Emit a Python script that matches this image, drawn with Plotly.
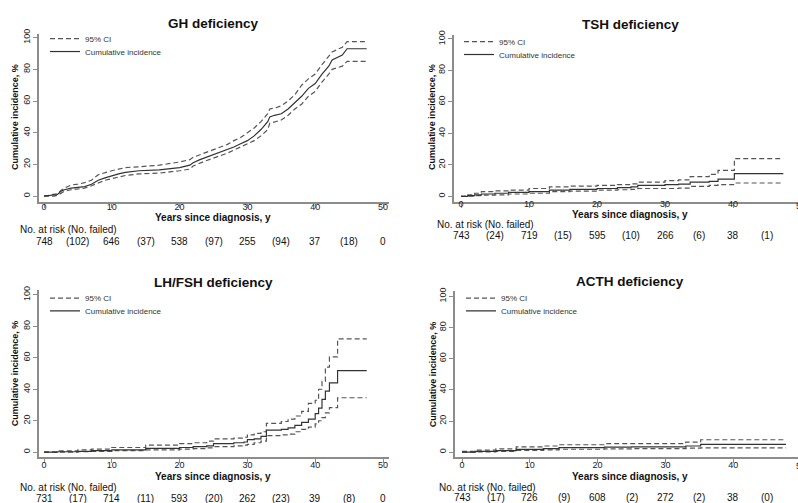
import plotly.graph_objects as go

W, H = 798, 503
FONT = "Liberation Sans, Arial, Helvetica, sans-serif"

# ---------------- data ----------------
titles = ["GH deficiency", "TSH deficiency", "LH/FSH deficiency", "ACTH deficiency"]

gh_t = [0, 1.5, 2, 2.5, 3, 4, 5, 6, 7, 8, 9, 10, 11, 12, 14, 17, 20, 21.5, 22, 23,
        24, 25, 26, 27, 28, 29, 30, 31, 32, 33, 33.3, 34, 35, 36, 37, 38, 39, 40, 41, 42,
        42.5, 44, 44.7, 47.6]
gh_ci = [0, 0.5, 1, 3, 4, 5, 5.5, 6, 7.5, 10, 11.5, 13, 14, 15, 16, 16.5, 18, 19.5, 21, 23,
         24.5, 26, 27.5, 29, 31, 33, 35, 38, 42, 47, 50, 51, 52, 55, 59, 63, 68, 71, 77, 82,
         86, 89, 93, 93]
gh_hi = [0, 1, 1.5, 3.5, 5, 7, 7.5, 8.5, 10, 13.5, 15, 16, 17, 18, 18.5, 19.5, 21.5, 23, 24.5, 26,
         27.5, 29, 30.5, 32.5, 35, 37, 40, 43, 47, 52, 55, 55.5, 57, 60, 64, 70, 74, 77, 83, 88,
         91, 94, 97.5, 97.5]
gh_lo = [0, 0, 0.5, 2, 3, 4, 4.5, 5, 6.5, 8.5, 10, 11, 12, 13, 14, 14.5, 16, 17, 19, 21,
         22.5, 24, 25.5, 27, 29, 31, 33, 35, 38, 42, 46, 47, 48, 51, 55, 58, 63, 66, 72, 77,
         80, 82, 85, 85]

tsh_t = [0, 1, 2, 3, 5, 7, 10, 13, 16, 20, 23, 25, 26, 30, 32, 33.7, 36.5, 37.8, 40.2, 47.4]
tsh_ci = [0, 0.5, 1, 1.5, 2, 2.5, 3, 4, 4.5, 5, 5.5, 6, 7, 7.5, 7.8, 9, 9.5, 11, 14.5, 14.5]
tsh_hi = [0, 1, 2, 3, 3.5, 4, 5, 6, 6.5, 7, 7.5, 8, 9, 10, 10.5, 12.5, 14, 16.5, 24, 24]
tsh_lo = [0, 0.2, 0.5, 0.8, 1, 1.5, 2, 3, 3.3, 4, 4.2, 4.5, 5, 5, 5.3, 6.3, 7, 7.5, 8.5, 8.5]

lh_t = [0, 2, 5, 7, 10, 15, 20, 22, 24, 25, 28, 29.5, 30, 31, 32, 32.8, 35, 36, 37, 38,
        39, 40, 40.5, 41, 41.5, 42.1, 43.3, 47.6]
lh_ci = [0, 0.3, 0.5, 1, 1.5, 2.5, 3, 3.5, 4, 5.5, 6, 6.5, 8, 8.5, 10, 14, 14.5, 15.5, 17, 19,
         21, 24.5, 28, 33.6, 38.8, 44, 51.8, 51.8]
lh_hi = [0, 0.8, 1.5, 2, 3, 4.5, 5.5, 6, 7, 8.5, 9, 9.5, 11, 12, 13, 18.3, 19.5, 21, 23, 26,
         31, 33, 40, 45, 54, 60.5, 72, 72]
lh_lo = [0, 0, 0.3, 0.5, 1, 1.5, 2, 2.3, 2.8, 3.5, 4, 4.5, 5, 6, 7, 10.5, 11, 11.5, 13, 14.5,
         16, 18, 20, 22, 25, 28.3, 34.6, 34.6]

acth_t = [0, 2, 5, 8, 12, 14.3, 21, 25, 33, 35.2, 47.8]
acth_ci = [0, 0.5, 1, 1.8, 2.3, 3, 3.3, 3.4, 4, 5, 5]
acth_hi = [0.5, 1.3, 2.2, 3.4, 4, 4.8, 5.5, 5.5, 6.5, 8, 8]
acth_lo = [0, 0.2, 0.5, 1.1, 1.5, 1.9, 2.2, 2.3, 2.6, 2.8, 2.8]

risk_years = [0, 10, 20, 30, 40, 50]
fail_years = [5, 15, 25, 35, 45]
gh_risk = [748, 646, 538, 255, 37, 0]
gh_fail = [102, 37, 97, 94, 18]
tsh_risk = [743, 719, 595, 266, 38, 0]
tsh_fail = [24, 15, 10, 6, 1]
lh_risk = [731, 714, 593, 262, 39, 0]
lh_fail = [17, 11, 20, 23, 8]
acth_risk = [743, 726, 608, 272, 38, 0]
acth_fail = [17, 9, 2, 2, 0]

x_ticks = [0, 10, 20, 30, 40, 50]
y_ticks = [0, 20, 40, 60, 80, 100]

# ---------------- layout geometry (pixels) ----------------
panels = [
    dict(t=gh_t, ci=gh_ci, hi=gh_hi, lo=gh_lo, risk=gh_risk, fail=gh_fail, shape="linear",
         xdom=(39, 389), x0=44, ppy=6.78, ydom=(29, 199), y0=193, y100=33, tstand=-9,
         title=(213, 19), ytitle=(15, 113), xtitle=(213, 215), nar=(18, 227), num_y=239,
         leg=(45, 34), tick_y=206),
    dict(t=tsh_t, ci=tsh_ci, hi=tsh_hi, lo=tsh_lo, risk=tsh_risk, fail=tsh_fail, shape="hv",
         xdom=(454, 798), x0=461, ppy=6.8, ydom=(30, 199), y0=193.3, y100=34.3, tstand=-12,
         title=(630, 20), ytitle=(432, 113), xtitle=(630, 212), nar=(435, 222), num_y=233,
         leg=(459, 37), tick_y=203),
    dict(t=lh_t, ci=lh_ci, hi=lh_hi, lo=lh_lo, risk=lh_risk, fail=lh_fail, shape="hv",
         xdom=(39, 389), x0=44, ppy=6.78, ydom=(288, 457), y0=451.7, y100=292.7, tstand=-6,
         title=(213, 280), ytitle=(15, 372), xtitle=(213, 476), nar=(18, 487), num_y=498,
         leg=(45, 296), tick_y=466),
    dict(t=acth_t, ci=acth_ci, hi=acth_hi, lo=acth_lo, risk=acth_risk, fail=acth_fail, shape="hv",
         xdom=(455, 798), x0=462, ppy=6.78, ydom=(289, 457), y0=451.7, y100=294.3, tstand=-6,
         title=(630, 279), ytitle=(433, 373), xtitle=(630, 476), nar=(437, 487), num_y=497,
         leg=(461, 296), tick_y=466),
]


def px(x):
    return x / W


def py(y):
    return 1 - y / H


fig = go.Figure()
annotations = []
layout = {}

for i, p in enumerate(panels):
    k = i + 1
    sfx = "" if k == 1 else str(k)
    xa, ya = "x" + sfx, "y" + sfx
    leg_a = "legend" if k == 1 else "legend%d" % (2 * k - 1)
    leg_b = "legend%d" % (2 * k)

    dash_style = dict(color="#555555", width=1.2, dash="5px,3px", shape=p["shape"])
    fig.add_trace(go.Scatter(x=p["t"], y=p["hi"], mode="lines", line=dash_style,
                             name="95% CI", xaxis=xa, yaxis=ya, legend=leg_a, showlegend=True))
    fig.add_trace(go.Scatter(x=p["t"], y=p["lo"], mode="lines", line=dash_style,
                             name="95% CI", xaxis=xa, yaxis=ya, legend=leg_a, showlegend=False))
    fig.add_trace(go.Scatter(x=p["t"], y=p["ci"], mode="lines",
                             line=dict(color="#333333", width=1.2, shape=p["shape"]),
                             name="Cumulative incidence", xaxis=xa, yaxis=ya, legend=leg_b,
                             showlegend=True))

    xr = [(p["xdom"][0] - p["x0"]) / p["ppy"], (p["xdom"][1] - p["x0"]) / p["ppy"]]
    ppu = (p["y0"] - p["y100"]) / 100.0
    yr = [(p["y0"] - p["ydom"][1]) / ppu, (p["y0"] - p["ydom"][0]) / ppu]

    axis_common = dict(showline=True, linecolor="#8c8c8c", linewidth=1.5, ticks="outside",
                       ticklen=4, tickwidth=1, tickcolor="#8c8c8c", showgrid=False,
                       zeroline=False, tickfont=dict(family=FONT, size=9, color="#222"))
    layout["xaxis" + sfx] = dict(axis_common, domain=[px(p["xdom"][0]), px(p["xdom"][1])],
                                 range=xr, anchor=ya, tickvals=x_ticks,
                                 ticklabelstandoff=p["tstand"])
    layout["yaxis" + sfx] = dict(axis_common, domain=[py(p["ydom"][1]), py(p["ydom"][0])],
                                 range=yr, anchor=xa, tickvals=y_ticks, tickangle=-90)

    lf = dict(family=FONT, size=8, color="#333")
    layout[leg_a] = dict(x=px(p["leg"][0]), y=py(p["leg"][1]), xanchor="left", yanchor="middle",
                         font=lf, bgcolor="rgba(0,0,0,0)", borderwidth=0, itemwidth=30)
    layout[leg_b] = dict(x=px(p["leg"][0]), y=py(p["leg"][1] + 13), xanchor="left",
                         yanchor="middle", font=lf, bgcolor="rgba(0,0,0,0)", borderwidth=0,
                         itemwidth=30)

    # x position in pixels for a value on this panel's x scale (for labels beyond the clipped edge)
    def xpos(v, p=p):
        return px(p["x0"] + v * p["ppy"])

    # titles
    annotations.append(dict(text="<b>%s</b>" % titles[i], x=px(p["title"][0]), y=py(p["title"][1]),
                            xref="paper", yref="paper", showarrow=False, xanchor="center",
                            yanchor="middle", font=dict(family=FONT, size=13.5, color="#111")))
    annotations.append(dict(text="<b>Cumulative incidence, %</b>", x=px(p["ytitle"][0]),
                            y=py(p["ytitle"][1]), xref="paper", yref="paper", showarrow=False,
                            textangle=-90, xanchor="center", yanchor="middle",
                            font=dict(family=FONT, size=9, color="#111")))
    annotations.append(dict(text="<b>Years since diagnosis, y</b>", x=px(p["xtitle"][0]),
                            y=py(p["xtitle"][1]), xref="paper", yref="paper", showarrow=False,
                            xanchor="center", yanchor="middle",
                            font=dict(family=FONT, size=10, color="#111")))
    annotations.append(dict(text="No. at risk (No. failed)", x=px(p["nar"][0]), y=py(p["nar"][1]),
                            xref="paper", yref="paper", showarrow=False, xanchor="left",
                            yanchor="middle", font=dict(family=FONT, size=10, color="#111")))
    nf = dict(family=FONT, size=10, color="#111")
    for yr_, n in zip(risk_years, p["risk"]):
        annotations.append(dict(text=str(n), x=xpos(yr_), y=py(p["num_y"]), xref="paper",
                                yref="paper", showarrow=False, xanchor="center",
                                yanchor="middle", font=nf))
    for yr_, n in zip(fail_years, p["fail"]):
        annotations.append(dict(text="(%d)" % n, x=xpos(yr_), y=py(p["num_y"]), xref="paper",
                                yref="paper", showarrow=False, xanchor="center",
                                yanchor="middle", font=nf))
    # tick labels beyond the visible range (cut by the image edge)
    for v in x_ticks:
        if v > xr[1]:
            annotations.append(dict(text=str(v), x=xpos(v), y=py(p["tick_y"]), xref="paper",
                                    yref="paper", showarrow=False, xanchor="center",
                                    yanchor="middle", font=dict(family=FONT, size=9, color="#222")))

fig.update_layout(**layout)
fig.update_layout(width=W, height=H, margin=dict(l=0, r=0, t=0, b=0),
                  paper_bgcolor="white", plot_bgcolor="white",
                  font=dict(family=FONT, color="#111"), annotations=annotations)

fig.write_html("out.html")
